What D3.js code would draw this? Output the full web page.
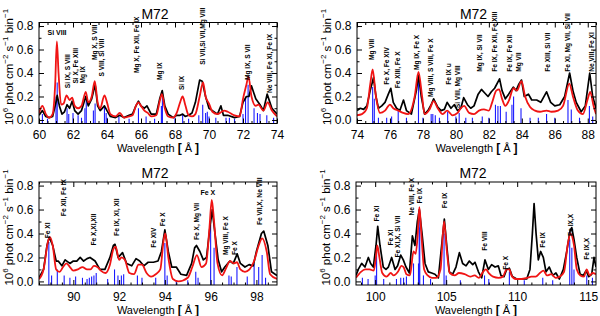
<!DOCTYPE html>
<html lang="en">
<head>
<meta charset="utf-8">
<title>M72 spectra</title>
<script src="https://cdn.jsdelivr.net/npm/d3@7"></script>
<style>
  body { margin: 0; background: #fff; }
  svg text { font-family: "Liberation Sans", Arial, sans-serif; }
</style>
</head>
<body>
<script>
// ---- data: [wavelength (A), 10^6 phot cm^-2 s^-1 bin^-1] ----
var yTicks = [0.0, 0.2, 0.4, 0.6, 0.8];

var p1Black = [[60.0,0.04],[60.2,0.08],[60.4,0.03],[60.6,0.02],[60.8,0.03],[61.0,0.15],[61.07,0.21],[61.2,0.12],[61.35,0.05],[61.5,0.07],[61.65,0.13],[61.8,0.10],[61.95,0.16],[62.1,0.08],[62.3,0.05],[62.5,0.08],[62.75,0.20],[62.9,0.12],[63.1,0.18],[63.3,0.30],[63.45,0.12],[63.6,0.08],[63.85,0.12],[64.0,0.08],[64.2,0.03],[64.5,0.02],[64.75,0.04],[65.0,0.02],[65.3,0.04],[65.5,0.05],[65.7,0.12],[65.85,0.16],[66.0,0.12],[66.2,0.10],[66.35,0.12],[66.6,0.05],[66.9,0.05],[67.1,0.18],[67.25,0.25],[67.4,0.12],[67.6,0.05],[67.9,0.02],[68.1,0.04],[68.3,0.04],[68.45,0.05],[68.6,0.03],[68.8,0.04],[69.0,0.06],[69.2,0.15],[69.45,0.34],[69.6,0.33],[69.8,0.2],[70.0,0.1],[70.2,0.08],[70.5,0.05],[70.7,0.12],[70.85,0.04],[71.1,0.04],[71.5,0.02],[71.8,0.03],[72.0,0.15],[72.2,0.2],[72.35,0.2],[72.5,0.29],[72.75,0.18],[73.0,0.13],[73.2,0.08],[73.42,0.22],[73.7,0.10],[74.0,0.05]];
var p1Red = [[60.0,0.06],[60.2,0.12],[60.4,0.05],[60.6,0.02],[60.8,0.05],[60.95,0.3],[61.05,0.67],[61.15,0.4],[61.3,0.13],[61.45,0.14],[61.62,0.21],[61.8,0.17],[61.95,0.19],[62.1,0.12],[62.3,0.10],[62.5,0.12],[62.75,0.24],[62.9,0.15],[63.1,0.2],[63.28,0.33],[63.45,0.15],[63.6,0.1],[63.85,0.21],[64.0,0.15],[64.2,0.05],[64.5,0.03],[64.75,0.06],[65.0,0.02],[65.3,0.03],[65.5,0.04],[65.7,0.12],[65.85,0.15],[66.0,0.12],[66.2,0.08],[66.4,0.06],[66.6,0.03],[66.9,0.04],[67.1,0.16],[67.23,0.22],[67.4,0.1],[67.6,0.03],[67.9,0.02],[68.1,0.06],[68.3,0.15],[68.45,0.2],[68.6,0.13],[68.8,0.04],[69.0,0.03],[69.2,0.05],[69.45,0.2],[69.65,0.32],[69.8,0.2],[70.0,0.14],[70.2,0.07],[70.5,0.05],[70.75,0.07],[70.9,0.08],[71.1,0.07],[71.5,0.04],[71.8,0.03],[72.0,0.18],[72.2,0.3],[72.32,0.37],[72.5,0.2],[72.75,0.12],[72.9,0.13],[73.2,0.08],[73.45,0.15],[73.7,0.08],[74.0,0.03]];
var p1Blue = [[60.2,0.05],[60.5,0.01],[61.0,0.2],[61.07,0.32],[61.65,0.1],[61.75,0.05],[62.0,0.06],[62.3,0.04],[62.5,0.02],[62.7,0.1],[62.78,0.17],[63.2,0.08],[63.3,0.14],[63.85,0.12],[63.95,0.06],[64.0,0.02],[64.7,0.03],[65.3,0.01],[65.85,0.1],[66.3,0.03],[66.8,0.01],[67.2,0.12],[67.26,0.2],[68.0,0.02],[68.45,0.05],[68.8,0.01],[69.4,0.04],[69.63,0.13],[69.8,0.06],[69.9,0.07],[70.0,0.03],[70.4,0.02],[71.0,0.02],[71.2,0.02],[71.5,0.01],[72.0,0.05],[72.15,0.19],[72.3,0.3],[72.65,0.1],[72.85,0.06],[73.0,0.05],[73.4,0.04],[73.8,0.02]];
var p1Labels = [["Si IX, S VIII",61.65,0.27],["Si X, Fe XIII",62.12,0.31],["Mg IX",62.53,0.31],["Mg X, S VIII",63.24,0.51],["S VIII, Si VIII",63.7,0.37],["Mg X, Fe XII, Fe IX",65.76,0.40],["Mg IX",67.06,0.34],["Si IX",68.41,0.255],["Si VII,Si VII,Mg VIII",69.59,0.47],["Mg IX, S VII",72.24,0.34],["Ne VIII, Fe XI, Fe IX",73.53,0.23]];
var p1Flat = [["Si VIII",61.06,0.72]];

var p2Black = [[74.0,0.08],[74.2,0.10],[74.4,0.09],[74.6,0.12],[74.8,0.25],[75.0,0.36],[75.15,0.2],[75.3,0.1],[75.5,0.12],[75.7,0.15],[75.9,0.22],[76.05,0.27],[76.2,0.15],[76.4,0.10],[76.6,0.08],[76.82,0.17],[77.0,0.08],[77.3,0.05],[77.6,0.25],[77.73,0.38],[77.9,0.2],[78.1,0.05],[78.3,0.08],[78.5,0.13],[78.65,0.18],[78.9,0.11],[79.1,0.08],[79.3,0.09],[79.47,0.15],[79.7,0.1],[79.9,0.13],[80.1,0.08],[80.3,0.1],[80.47,0.19],[80.7,0.13],[80.9,0.1],[81.1,0.12],[81.35,0.22],[81.55,0.26],[81.75,0.23],[81.95,0.2],[82.15,0.24],[82.35,0.27],[82.65,0.35],[82.8,0.25],[83.0,0.18],[83.2,0.22],[83.48,0.28],[83.65,0.25],[83.8,0.3],[83.98,0.34],[84.15,0.2],[84.4,0.22],[84.6,0.17],[84.9,0.17],[85.15,0.15],[85.5,0.24],[85.75,0.15],[86.0,0.12],[86.3,0.13],[86.6,0.2],[86.9,0.40],[87.1,0.25],[87.3,0.15],[87.6,0.07],[87.85,0.12],[88.12,0.40],[88.3,0.2],[88.5,0.1]];
var p2Red = [[74.0,0.04],[74.3,0.05],[74.6,0.10],[74.8,0.3],[74.95,0.43],[75.15,0.2],[75.4,0.06],[75.7,0.08],[76.0,0.13],[76.2,0.1],[76.5,0.08],[76.8,0.06],[77.1,0.05],[77.5,0.2],[77.73,0.41],[77.95,0.2],[78.1,0.05],[78.4,0.09],[78.65,0.16],[78.9,0.1],[79.2,0.05],[79.47,0.08],[79.8,0.04],[80.1,0.06],[80.3,0.1],[80.5,0.12],[80.8,0.06],[81.1,0.05],[81.4,0.08],[81.7,0.09],[82.0,0.08],[82.2,0.15],[82.45,0.25],[82.62,0.26],[82.8,0.18],[83.0,0.12],[83.2,0.16],[83.5,0.27],[83.7,0.25],[83.98,0.33],[84.2,0.2],[84.5,0.11],[84.8,0.08],[85.1,0.07],[85.5,0.08],[85.8,0.07],[86.2,0.08],[86.5,0.12],[86.88,0.31],[87.1,0.2],[87.4,0.08],[87.7,0.05],[88.0,0.18],[88.15,0.24],[88.35,0.12],[88.5,0.05]];
var p2Blue = [[74.95,0.28],[75.05,0.18],[75.3,0.02],[75.8,0.02],[76.1,0.03],[76.5,0.08],[77.0,0.02],[77.73,0.37],[78.0,0.02],[78.5,0.05],[78.6,0.05],[78.75,0.04],[79.0,0.02],[79.5,0.07],[80.0,0.03],[80.2,0.06],[80.6,0.02],[81.0,0.02],[81.6,0.03],[82.0,0.02],[82.4,0.13],[82.55,0.12],[82.7,0.12],[83.05,0.07],[83.4,0.13],[83.5,0.2],[83.95,0.1],[84.5,0.02],[85.0,0.02],[85.5,0.05],[86.0,0.02],[86.8,0.17],[87.0,0.09],[87.5,0.02],[88.1,0.12],[88.3,0.03]];
var p2Labels = [["Mg VIII",74.85,0.51],["Fe X, Fe XIV",75.82,0.30],["Fe XIII, Fe X",76.43,0.27],["Mg IX, Fe X",77.64,0.425],["Mg VIII, S VIII, Fe X",78.43,0.196],["Fe IX u",79.58,0.30],["Si VIII, Mg VIII",80.07,0.10],["Mg IX, Si VII",81.46,0.41],["Fe IX, Fe XII, Fe XIII",82.37,0.41],["Fe IX, Fe XII",83.28,0.41],["Mg VII",83.77,0.41],["Fe XIII, Si VII",85.53,0.41],["Fe XI, Mg VII, Si VII",86.8,0.41],["Ne VIII, Fe XI",88.2,0.41]];
var p2Flat = [];

var p3Black = [[88.5,0.03],[88.7,0.1],[88.85,0.3],[88.95,0.37],[89.1,0.3],[89.25,0.17],[89.34,0.17],[89.5,0.13],[89.64,0.18],[89.85,0.15],[90.0,0.17],[90.15,0.17],[90.3,0.2],[90.45,0.17],[90.6,0.19],[90.73,0.2],[90.95,0.17],[91.16,0.1],[91.38,0.1],[91.6,0.2],[91.75,0.3],[91.82,0.31],[91.96,0.2],[92.15,0.24],[92.33,0.15],[92.55,0.13],[92.74,0.19],[92.9,0.17],[93.08,0.13],[93.27,0.16],[93.5,0.16],[93.7,0.17],[93.85,0.25],[94.0,0.43],[94.15,0.25],[94.3,0.12],[94.5,0.12],[94.7,0.06],[94.95,0.05],[95.17,0.15],[95.3,0.28],[95.38,0.3],[95.53,0.25],[95.68,0.18],[95.82,0.2],[95.97,0.45],[96.07,0.6],[96.19,0.4],[96.33,0.18],[96.48,0.08],[96.62,0.12],[96.84,0.17],[96.99,0.15],[97.16,0.23],[97.3,0.15],[97.5,0.12],[97.68,0.14],[97.86,0.13],[98.0,0.25],[98.22,0.4],[98.32,0.42],[98.5,0.3],[98.66,0.08],[98.9,0.05]];
var p3Red = [[88.5,0.02],[88.7,0.1],[88.9,0.34],[88.98,0.37],[89.1,0.3],[89.25,0.1],[89.4,0.08],[89.55,0.12],[89.7,0.15],[89.85,0.12],[90.0,0.09],[90.2,0.1],[90.4,0.12],[90.6,0.1],[90.75,0.1],[90.9,0.13],[91.05,0.12],[91.2,0.09],[91.4,0.07],[91.6,0.14],[91.75,0.27],[91.85,0.29],[92.0,0.18],[92.1,0.2],[92.25,0.18],[92.45,0.07],[92.65,0.06],[92.85,0.14],[93.0,0.14],[93.2,0.07],[93.4,0.04],[93.6,0.06],[93.8,0.1],[93.95,0.35],[94.02,0.4],[94.15,0.2],[94.35,0.02],[94.6,0.0],[95.0,0.03],[95.2,0.12],[95.4,0.22],[95.6,0.12],[95.8,0.15],[95.95,0.45],[96.05,0.68],[96.15,0.5],[96.3,0.15],[96.5,0.05],[96.65,0.1],[96.85,0.17],[97.0,0.15],[97.15,0.16],[97.3,0.1],[97.5,0.08],[97.7,0.1],[97.9,0.17],[98.1,0.3],[98.25,0.36],[98.45,0.25],[98.6,0.06],[98.9,0.02]];
var p3Blue = [[88.93,0.33],[89.05,0.05],[89.3,0.1],[89.6,0.05],[89.85,0.03],[90.1,0.04],[90.4,0.03],[90.6,0.02],[90.7,0.03],[90.8,0.04],[90.9,0.05],[91.0,0.07],[91.5,0.02],[91.8,0.1],[91.95,0.05],[92.1,0.05],[92.2,0.06],[92.8,0.05],[93.0,0.03],[93.6,0.03],[94.0,0.32],[94.1,0.05],[94.5,0.01],[95.0,0.01],[95.35,0.08],[95.45,0.03],[96.0,0.47],[96.15,0.28],[96.8,0.05],[96.9,0.04],[97.15,0.12],[97.6,0.04],[97.9,0.15],[98.1,0.12],[98.25,0.22],[98.4,0.03]];
var p3Labels = [["Fe XI",88.89,0.36],["Fe XII, Fe IX",89.55,0.545],["Fe X,XI,XII",90.9,0.30],["Fe IX, XI, XII",91.9,0.38],["Fe XIV",93.52,0.28],["Fe X",93.91,0.46],["Fe X, Mg VII",95.4,0.346],["Mg VIII, Fe X",96.67,0.22],["Fe X",97.06,0.22],["Fe VII,X, Ne VIII",98.15,0.47]];
var p3Flat = [["Fe X",95.88,0.72]];

var p4Black = [[98.65,0.05],[98.81,0.1],[99.05,0.15],[99.28,0.12],[99.52,0.2],[99.68,0.15],[99.87,0.12],[100.06,0.3],[100.18,0.46],[100.34,0.3],[100.57,0.12],[100.76,0.1],[100.93,0.12],[101.16,0.2],[101.4,0.1],[101.58,0.13],[101.8,0.22],[101.98,0.18],[102.17,0.12],[102.41,0.07],[102.62,0.38],[102.8,0.3],[102.97,0.5],[103.11,0.6],[103.3,0.4],[103.51,0.15],[103.74,0.08],[103.98,0.07],[104.21,0.06],[104.45,0.03],[104.68,0.3],[104.87,0.52],[105.04,0.3],[105.22,0.08],[105.46,0.06],[105.69,0.12],[105.93,0.24],[106.16,0.15],[106.4,0.13],[106.63,0.17],[106.87,0.14],[107.03,0.16],[107.27,0.08],[107.5,0.03],[107.73,0.18],[107.97,0.1],[108.2,0.14],[108.44,0.12],[108.67,0.13],[108.86,0.05],[109.07,0.04],[109.26,0.1],[109.45,0.11],[109.66,0.04],[109.97,0.02],[110.32,0.02],[110.67,0.02],[110.9,0.1],[111.07,0.4],[111.19,0.65],[111.33,0.4],[111.49,0.18],[111.65,0.25],[111.84,0.2],[112.03,0.08],[112.26,0.12],[112.5,0.05],[112.73,0.07],[112.97,0.02],[113.25,0.1],[113.49,0.25],[113.72,0.42],[113.84,0.45],[114.0,0.35],[114.19,0.2],[114.43,0.06],[114.66,0.05],[114.85,0.09],[115.04,0.04],[115.25,0.06],[115.41,0.2],[115.55,0.12]];
var p4Red = [[98.65,0.03],[99.0,0.08],[99.3,0.1],[99.6,0.1],[99.9,0.09],[100.05,0.2],[100.15,0.3],[100.3,0.2],[100.5,0.07],[100.8,0.04],[101.1,0.07],[101.3,0.05],[101.6,0.08],[101.85,0.13],[102.0,0.12],[102.2,0.06],[102.45,0.05],[102.7,0.25],[102.85,0.23],[103.0,0.4],[103.11,0.62],[103.25,0.4],[103.45,0.1],[103.7,0.05],[104.0,0.03],[104.3,0.03],[104.6,0.1],[104.85,0.5],[105.05,0.25],[105.25,0.07],[105.6,0.05],[105.9,0.07],[106.3,0.06],[106.7,0.04],[107.0,0.05],[107.3,0.03],[107.6,0.08],[107.8,0.1],[108.0,0.07],[108.3,0.04],[108.7,0.03],[109.0,0.04],[109.25,0.1],[109.45,0.1],[109.6,0.05],[109.9,0.02],[110.3,0.02],[110.7,0.03],[111.0,0.04],[111.3,0.04],[111.6,0.07],[111.85,0.09],[112.1,0.05],[112.4,0.06],[112.7,0.03],[113.0,0.04],[113.3,0.08],[113.55,0.3],[113.75,0.4],[114.0,0.3],[114.2,0.1],[114.45,0.05],[114.7,0.04],[114.9,0.1],[115.1,0.05],[115.3,0.07],[115.55,0.06]];
var p4Blue = [[99.1,0.03],[99.5,0.02],[100.0,0.05],[100.1,0.25],[100.6,0.02],[101.5,0.02],[101.8,0.03],[102.0,0.03],[102.2,0.04],[102.7,0.15],[103.05,0.15],[103.1,0.45],[103.14,0.55],[103.4,0.05],[103.9,0.02],[104.85,0.4],[105.0,0.05],[106.0,0.01],[107.7,0.05],[108.0,0.02],[109.45,0.08],[110.5,0.01],[111.8,0.03],[112.5,0.01],[113.7,0.35],[113.85,0.28],[114.0,0.1],[114.9,0.05],[115.3,0.03]];
var p4Labels = [["Fe XI",100.06,0.50],["Fe XI",101.09,0.30],["Fe XI,X, Si VII",101.59,0.20],["Ne VIII, Fe X",102.57,0.55],["Fe IX",103.09,0.65],["Fe IX",104.85,0.61],["Fe VIII",107.73,0.255],["Fe X",109.19,0.097],["Fe IX",111.8,0.28],["Fe IX,X",113.77,0.38],["Fe IX,X",114.85,0.18]];
var p4Flat = [];

// ---- layout ----
var width = 600, height = 316;
var yDomain = [-0.03, 0.83];

var panels = [
  {domain:[60,74],        box:[39,277,22.5,123.5], major:2, minor:0.5, black:p1Black, red:p1Red, blue:p1Blue, labels:p1Labels, flat:p1Flat},
  {domain:[74,88.5],      box:[357,596,22.5,123.5], major:2, minor:0.5, black:p2Black, red:p2Red, blue:p2Blue, labels:p2Labels, flat:p2Flat},
  {domain:[88.5,98.9],    box:[39,277,182,285],    major:2, minor:0.5, black:p3Black, red:p3Red, blue:p3Blue, labels:p3Labels, flat:p3Flat},
  {domain:[98.65,115.55], box:[356,596,182,285],   major:5, minor:1,   black:p4Black, red:p4Red, blue:p4Blue, labels:p4Labels, flat:p4Flat}
];

var svg = d3.select("body").append("svg")
  .attr("width", width)
  .attr("height", height);

function stepValues(d0, d1, step) {
  var out = [];
  for (var v = Math.ceil(d0 / step - 1e-9) * step; v <= d1 + 1e-9; v += step) out.push(+v.toFixed(4));
  return out;
}

panels.forEach(function(p, i) {
  var left = p.box[0], right = p.box[1], top = p.box[2], bottom = p.box[3];
  var x = d3.scaleLinear().domain(p.domain).range([left, right]);
  var y = d3.scaleLinear().domain(yDomain).range([bottom, top]);
  var g = svg.append("g");

  var clipId = "clip" + i;
  svg.append("clipPath").attr("id", clipId)
    .append("rect").attr("x", left).attr("y", top)
    .attr("width", right - left).attr("height", bottom - top);

  var plot = g.append("g").attr("clip-path", "url(#" + clipId + ")");

  /** blue line sticks **/
  plot.selectAll("line.stick")
    .data(p.blue)
    .enter().append("line")
    .attr("class", "stick")
    .attr("x1", d => x(d[0])).attr("x2", d => x(d[0]))
    .attr("y1", y(yDomain[0])).attr("y2", d => y(d[1]))
    .attr("stroke", "#1a1aff")
    .attr("stroke-width", 1.1);

  /** observed (black) and model (red) **/
  var lineBlack = d3.line().x(d => x(d[0])).y(d => y(d[1]));
  var lineRed = d3.line().x(d => x(d[0])).y(d => y(d[1])).curve(d3.curveMonotoneX);

  plot.append("path").datum(p.black)
    .attr("d", lineBlack)
    .attr("fill", "none").attr("stroke", "#000").attr("stroke-width", 1.7)
    .attr("stroke-linejoin", "round");
  plot.append("path").datum(p.red)
    .attr("d", lineRed)
    .attr("fill", "none").attr("stroke", "#f01414").attr("stroke-width", 1.8);

  /** axes with inward ticks on all four sides **/
  var xMaj = stepValues(p.domain[0], p.domain[1], p.major);
  var xMin = stepValues(p.domain[0], p.domain[1], p.minor).filter(v => xMaj.indexOf(v) < 0);
  var yMin = [0.1, 0.3, 0.5, 0.7];

  function clean(sel) {
    sel.select(".domain").remove();
    sel.attr("font-family", null).attr("font-size", null);
  }

  g.append("g").attr("transform", "translate(0," + bottom + ")")
    .call(d3.axisBottom(x).tickValues(xMaj).tickSize(-5).tickPadding(7).tickFormat(d3.format("d")))
    .call(clean)
    .selectAll("text").attr("font-size", 12).attr("fill", "#000");
  g.append("g").attr("transform", "translate(0," + bottom + ")")
    .call(d3.axisBottom(x).tickValues(xMin).tickSize(-2.5).tickFormat("")).call(clean);
  g.append("g").attr("transform", "translate(0," + top + ")")
    .call(d3.axisTop(x).tickValues(xMaj).tickSize(-5).tickFormat("")).call(clean);
  g.append("g").attr("transform", "translate(0," + top + ")")
    .call(d3.axisTop(x).tickValues(xMin).tickSize(-2.5).tickFormat("")).call(clean);

  g.append("g").attr("transform", "translate(" + left + ",0)")
    .call(d3.axisLeft(y).tickValues(yTicks).tickSize(-5).tickPadding(5.5).tickFormat(d3.format(".1f")))
    .call(clean)
    .selectAll("text").attr("font-size", 12).attr("fill", "#000");
  g.append("g").attr("transform", "translate(" + left + ",0)")
    .call(d3.axisLeft(y).tickValues(yMin).tickSize(-2.5).tickFormat("")).call(clean);
  g.append("g").attr("transform", "translate(" + right + ",0)")
    .call(d3.axisRight(y).tickValues(yTicks).tickSize(-5).tickFormat("")).call(clean);
  g.append("g").attr("transform", "translate(" + right + ",0)")
    .call(d3.axisRight(y).tickValues(yMin).tickSize(-2.5).tickFormat("")).call(clean);

  g.append("rect")
    .attr("x", left).attr("y", top)
    .attr("width", right - left).attr("height", bottom - top)
    .attr("fill", "none").attr("stroke", "#000").attr("stroke-width", 1);

  /** line identifications **/
  g.selectAll("text.ion")
    .data(p.labels)
    .enter().append("text")
    .attr("class", "ion")
    .attr("transform", d => "translate(" + x(d[1]) + "," + y(d[2]) + ") rotate(-90)")
    .attr("dominant-baseline", "central")
    .attr("font-size", 6.6)
    .attr("font-weight", "bold")
    .text(d => d[0]);
  g.selectAll("text.ionflat")
    .data(p.flat)
    .enter().append("text")
    .attr("class", "ionflat")
    .attr("x", d => x(d[1])).attr("y", d => y(d[2]))
    .attr("text-anchor", "middle")
    .attr("font-size", 7)
    .attr("font-weight", "bold")
    .text(d => d[0]);

  /** titles **/
  var cx = (left + right) / 2;
  g.append("text")
    .attr("x", cx - 3).attr("y", top - 4)
    .attr("text-anchor", "middle").attr("font-size", 14)
    .text("M72");

  var xt = g.append("text")
    .attr("x", cx).attr("y", bottom + 28.5)
    .attr("text-anchor", "middle").attr("font-size", 11);
  xt.append("tspan").text("Wavelength ");
  xt.append("tspan").attr("font-size", 12).attr("font-weight", "bold").text("[");
  xt.append("tspan").text(" Å ");
  xt.append("tspan").attr("font-size", 12).attr("font-weight", "bold").text("]");

  var yt = g.append("text")
    .attr("transform", "translate(" + (left - 26) + "," + ((top + bottom) / 2 - 6) + ") rotate(-90)")
    .attr("text-anchor", "middle").attr("font-size", 11.5);
  yt.append("tspan").text("10");
  yt.append("tspan").attr("font-size", 8).attr("dy", -5).text("6");
  yt.append("tspan").attr("dy", 5).text(" phot cm");
  yt.append("tspan").attr("font-size", 8).attr("dy", -5).text("−2");
  yt.append("tspan").attr("dy", 5).text(" s");
  yt.append("tspan").attr("font-size", 8).attr("dy", -5).text("−1");
  yt.append("tspan").attr("dy", 5).text(" bin");
  yt.append("tspan").attr("font-size", 8).attr("dy", -5).text("−1");
});
</script>
</body>
</html>
